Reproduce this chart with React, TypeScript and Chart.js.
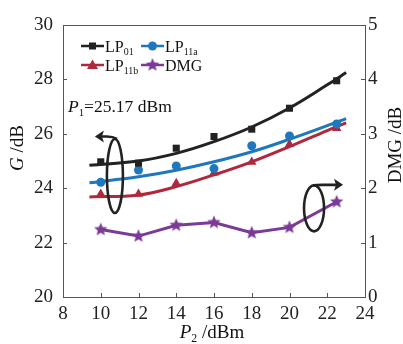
import React, { useEffect, useRef } from "react";
import { Chart, registerables } from "chart.js";
Chart.register(...registerables);

// ---- data ----
const measX = [10, 12, 14, 16, 18, 20, 22.5];
const lp01 = [24.97, 24.92, 25.47, 25.9, 26.17, 26.94, 27.95];
const lp11a = [24.22, 24.67, 24.82, 24.72, 25.56, 25.92, 26.36];
const lp11b = [23.79, 23.79, 24.18, 24.57, 24.96, 25.62, 26.2];
const dmg = [1.24, 1.12, 1.32, 1.37, 1.18, 1.28, 1.75];

const fitX = [9.4, 12, 14, 16, 18, 20, 22, 23];
const lp01Fit = [24.84, 25.0, 25.28, 25.71, 26.25, 26.95, 27.8, 28.25];
const lp11aFit = [24.2, 24.42, 24.66, 24.97, 25.34, 25.8, 26.3, 26.56];
const lp11bFit = [23.68, 23.75, 24.06, 24.49, 24.97, 25.53, 26.12, 26.4];

const xRange = [8, 24];
const gRange = [20, 30];
const dmgRange = [0, 5];

// annotation anchors (data units)
const leftLoop = { x: 10.75, g: 24.45 };
const rightLoop = { x: 21.3, d: 1.63 };

const BLACK = "#222222";
const BLUE = "#1f78bd";
const RED = "#b0283c";
const PURPLE = "#7b3a96";
const AXIS = "#555555";
const FONT = "'Liberation Serif', 'DejaVu Serif', serif";

const pts = (xs: number[], ys: number[]) => xs.map((x, i) => ({ x, y: ys[i] }));

function makeStar(color: string, r: number) {
  const c = document.createElement("canvas");
  const s = Math.ceil(r * 2 + 2);
  c.width = s;
  c.height = s;
  const g = c.getContext("2d")!;
  g.fillStyle = color;
  g.beginPath();
  for (let i = 0; i < 10; i++) {
    const rr = i % 2 === 0 ? r : r * 0.45;
    const a = -Math.PI / 2 + (i * Math.PI) / 5;
    const px = s / 2 + rr * Math.cos(a);
    const py = s / 2 + rr * Math.sin(a);
    if (i === 0) g.moveTo(px, py);
    else g.lineTo(px, py);
  }
  g.closePath();
  g.fill();
  return c;
}

type Part = { t: string; italic?: boolean; sub?: boolean };

function richWidth(ctx: CanvasRenderingContext2D, parts: Part[], size: number) {
  let w = 0;
  for (const p of parts) {
    const fs = p.sub ? size * 0.62 : size;
    ctx.font = `${p.italic ? "italic " : ""}${fs}px ${FONT}`;
    w += ctx.measureText(p.t).width;
  }
  return w;
}

function drawRich(ctx: CanvasRenderingContext2D, parts: Part[], x: number, y: number, size: number) {
  ctx.textBaseline = "alphabetic";
  ctx.textAlign = "left";
  let cx = x;
  for (const p of parts) {
    const fs = p.sub ? size * 0.62 : size;
    ctx.font = `${p.italic ? "italic " : ""}${fs}px ${FONT}`;
    ctx.fillText(p.t, cx, p.sub ? y + size * 0.22 : y);
    cx += ctx.measureText(p.t).width;
  }
}

export default function App() {
  const ref = useRef<HTMLCanvasElement | null>(null);

  useEffect(() => {
    document.body.style.margin = "0";
    const star = makeStar(PURPLE, 7);

    const drawMarker = (ctx: CanvasRenderingContext2D, kind: string, x: number, y: number, color: string) => {
      ctx.fillStyle = color;
      if (kind === "rect") {
        ctx.fillRect(x - 3.5, y - 3.5, 7, 7);
      } else if (kind === "circle") {
        ctx.beginPath();
        ctx.arc(x, y, 4.5, 0, Math.PI * 2);
        ctx.fill();
      } else if (kind === "triangle") {
        ctx.beginPath();
        ctx.moveTo(x, y - 5.5);
        ctx.lineTo(x + 5.5, y + 4);
        ctx.lineTo(x - 5.5, y + 4);
        ctx.closePath();
        ctx.fill();
      } else {
        ctx.drawImage(star, x - star.width / 2, y - star.height / 2);
      }
    };

    const deco = {
      id: "deco",
      afterDraw(chart: any) {
        const { ctx, chartArea: a, scales } = chart;
        const sx = scales.x, sy = scales.y, sy2 = scales.y2;
        ctx.save();
        // top border
        ctx.strokeStyle = AXIS;
        ctx.lineWidth = 1;
        ctx.beginPath();
        ctx.moveTo(a.left, Math.round(a.top) + 0.5);
        ctx.lineTo(a.right, Math.round(a.top) + 0.5);
        ctx.stroke();
        // inward ticks
        ctx.beginPath();
        sx.ticks.forEach((t: any) => {
          const p = Math.round(sx.getPixelForValue(t.value)) + 0.5;
          ctx.moveTo(p, a.bottom);
          ctx.lineTo(p, a.bottom - 4);
        });
        sy.ticks.forEach((t: any) => {
          const p = Math.round(sy.getPixelForValue(t.value)) + 0.5;
          ctx.moveTo(a.left, p);
          ctx.lineTo(a.left + 4, p);
        });
        sy2.ticks.forEach((t: any) => {
          const p = Math.round(sy2.getPixelForValue(t.value)) + 0.5;
          ctx.moveTo(a.right, p);
          ctx.lineTo(a.right - 4, p);
        });
        ctx.stroke();

        // loops and arrows
        ctx.strokeStyle = BLACK;
        ctx.fillStyle = BLACK;
        ctx.lineWidth = 2.6;
        const lx = sx.getPixelForValue(leftLoop.x);
        const ly = sy.getPixelForValue(leftLoop.g);
        ctx.beginPath();
        ctx.ellipse(lx, ly, 8, 37, 0, 0, Math.PI * 2);
        ctx.stroke();
        ctx.beginPath();
        ctx.moveTo(lx + 2, ly - 37);
        ctx.quadraticCurveTo(lx - 2, ly - 39.5, lx - 8, ly - 39.5);
        ctx.lineTo(lx - 14, ly - 39.5);
        ctx.stroke();
        ctx.beginPath();
        ctx.moveTo(lx - 20, ly - 39.5);
        ctx.lineTo(lx - 11, ly - 45.5);
        ctx.lineTo(lx - 13, ly - 39.5);
        ctx.lineTo(lx - 11, ly - 33.5);
        ctx.closePath();
        ctx.fill();

        const rx = sx.getPixelForValue(rightLoop.x);
        const ry = sy2.getPixelForValue(rightLoop.d);
        ctx.beginPath();
        ctx.ellipse(rx, ry, 10, 23, 0, 0, Math.PI * 2);
        ctx.stroke();
        ctx.beginPath();
        ctx.moveTo(rx - 1, ry - 23);
        ctx.quadraticCurveTo(rx + 3, ry - 23.5, rx + 8, ry - 23.5);
        ctx.lineTo(rx + 22, ry - 23.5);
        ctx.stroke();
        ctx.beginPath();
        ctx.moveTo(rx + 29, ry - 23.5);
        ctx.lineTo(rx + 20, ry - 29.5);
        ctx.lineTo(rx + 22, ry - 23.5);
        ctx.lineTo(rx + 20, ry - 17.5);
        ctx.closePath();
        ctx.fill();

        // legend
        const rows = [
          { x: 81, y: 46, color: BLACK, kind: "rect", parts: [{ t: "LP" }, { t: "01", sub: true }] },
          { x: 141, y: 46, color: BLUE, kind: "circle", parts: [{ t: "LP" }, { t: "11a", sub: true }] },
          { x: 81, y: 65, color: RED, kind: "triangle", parts: [{ t: "LP" }, { t: "11b", sub: true }] },
          { x: 141, y: 65, color: PURPLE, kind: "star", parts: [{ t: "DMG" }] },
        ];
        rows.forEach((r) => {
          ctx.strokeStyle = r.color;
          ctx.lineWidth = 2.5;
          ctx.beginPath();
          ctx.moveTo(r.x, r.y);
          ctx.lineTo(r.x + 23, r.y);
          ctx.stroke();
          drawMarker(ctx, r.kind, r.x + 11.5, r.y, r.color);
          ctx.fillStyle = "#111";
          drawRich(ctx, r.parts as Part[], r.x + 24, r.y + 5.5, 16);
        });

        // P1 annotation
        ctx.fillStyle = "#111";
        drawRich(
          ctx,
          [{ t: "P", italic: true }, { t: "1", sub: true }, { t: "=25.17 dBm" }],
          68,
          112,
          17.5
        );

        // axis titles
        const tsize = 19;
        const gParts: Part[] = [{ t: "G", italic: true }, { t: " /dB" }];
        const gw = richWidth(ctx, gParts, tsize);
        ctx.save();
        ctx.translate(23, 148);
        ctx.rotate(-Math.PI / 2);
        drawRich(ctx, gParts, -gw / 2, 0, tsize);
        ctx.restore();

        const dParts: Part[] = [{ t: "DMG /dB" }];
        const dw = richWidth(ctx, dParts, tsize);
        ctx.save();
        ctx.translate(401, 145);
        ctx.rotate(-Math.PI / 2);
        drawRich(ctx, dParts, -dw / 2, 0, tsize);
        ctx.restore();

        const pParts: Part[] = [{ t: "P", italic: true }, { t: "2", sub: true }, { t: " /dBm" }];
        const pw = richWidth(ctx, pParts, tsize);
        drawRich(ctx, pParts, 212 - pw / 2, 338, tsize);

        ctx.restore();
      },
    };

    const tickFont = { family: FONT, size: 19 };
    const chart = new Chart(ref.current!, {
      type: "scatter",
      data: {
        datasets: [
          { label: "LP01", data: pts(measX, lp01), yAxisID: "y", showLine: false, pointStyle: "rect", pointRadius: 5, backgroundColor: BLACK, borderWidth: 0, order: 1 },
          { label: "LP11a", data: pts(measX, lp11a), yAxisID: "y", showLine: false, pointStyle: "circle", pointRadius: 4.5, backgroundColor: BLUE, borderWidth: 0, order: 1 },
          { label: "LP11b", data: pts(measX, lp11b), yAxisID: "y", showLine: false, pointStyle: "triangle", pointRadius: 5.5, backgroundColor: RED, borderWidth: 0, order: 1 },
          { label: "LP01 fit", data: pts(fitX, lp01Fit), yAxisID: "y", showLine: true, pointRadius: 0, borderColor: BLACK, borderWidth: 3, tension: 0.4, order: 3 },
          { label: "LP11a fit", data: pts(fitX, lp11aFit), yAxisID: "y", showLine: true, pointRadius: 0, borderColor: BLUE, borderWidth: 3, tension: 0.4, order: 3 },
          { label: "LP11b fit", data: pts(fitX, lp11bFit), yAxisID: "y", showLine: true, pointRadius: 0, borderColor: RED, borderWidth: 3, tension: 0.4, order: 3 },
          { label: "DMG", data: pts(measX, dmg), yAxisID: "y2", showLine: true, pointStyle: star as any, pointRadius: 7, borderColor: PURPLE, backgroundColor: PURPLE, borderWidth: 3, tension: 0, order: 2 },
        ],
      },
      options: {
        animation: false,
        responsive: true,
        maintainAspectRatio: false,
        layout: { padding: { top: 25, left: 0, right: 0, bottom: 0 } },
        plugins: { legend: { display: false }, tooltip: { enabled: false } },
        scales: {
          x: {
            type: "linear",
            min: xRange[0],
            max: xRange[1],
            ticks: { stepSize: 2, font: tickFont, color: "#222", padding: 6, maxRotation: 0 },
            grid: { display: false, drawTicks: false },
            border: { display: true, color: AXIS, width: 1 },
            afterFit: (s: any) => { s.height = 47; },
          },
          y: {
            type: "linear",
            position: "left",
            min: gRange[0],
            max: gRange[1],
            ticks: { stepSize: 2, font: tickFont, color: "#222", padding: 10 },
            grid: { display: false, drawTicks: false },
            border: { display: true, color: AXIS, width: 1 },
            afterFit: (s: any) => { s.width = 63; },
          },
          y2: {
            type: "linear",
            position: "right",
            min: dmgRange[0],
            max: dmgRange[1],
            ticks: { stepSize: 1, font: tickFont, color: "#222", padding: 3 },
            grid: { display: false, drawTicks: false },
            border: { display: true, color: AXIS, width: 1 },
            afterFit: (s: any) => { s.width = 38; },
          },
        },
      },
      plugins: [deco],
    } as any);
    return () => chart.destroy();
  }, []);

  return (
    <div style={{ width: 403, height: 344, position: "relative", background: "#fff" }}>
      <canvas ref={ref} />
    </div>
  );
}
